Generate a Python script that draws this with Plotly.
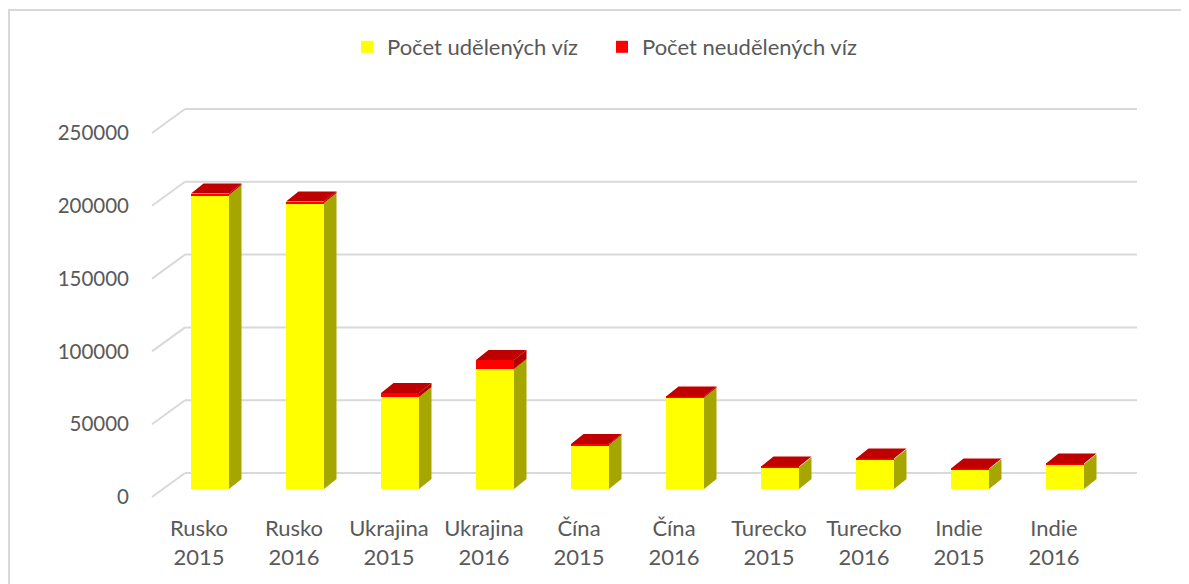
import plotly.graph_objects as go

# ---- data ----
categories = ["Rusko<br>2015", "Rusko<br>2016", "Ukrajina<br>2015", "Ukrajina<br>2016",
              "Čína<br>2015", "Čína<br>2016", "Turecko<br>2015", "Turecko<br>2016",
              "Indie<br>2015", "Indie<br>2016"]
granted = [201900, 196400, 63200, 82400, 30200, 62600, 14900, 20400, 13500, 17000]
refused = [1000, 1000, 2700, 6200, 700, 900, 500, 500, 500, 500]
y_ticks = [0, 50000, 100000, 150000, 200000, 250000]
series_names = ["Počet udělených víz", "Počet neudělených víz"]

# ---- geometry / style ----
W, H = 1189, 584
OFF = 8                      # page body margin (figure is drawn 8px in)
ML, MR, MT, MB = 132, 47, 92, 87   # figure-space margins
PX_PER_CAT = 95.0            # pixels between categories
X0_PIX = 210.0               # page pixel centre of first bar
PX_PER_UNIT = 1.456 / 1000   # pixels per value unit
Y0_PIX = 489.0               # page pixel of bar base
BAR_W = 0.4
DEPTH_DX = 12.5 / PX_PER_CAT
DEPTH_DY = 10 / PX_PER_UNIT

def xv(p):
    return (p - X0_PIX) / PX_PER_CAT

def yv(p):
    return (Y0_PIX - p) / PX_PER_UNIT

# plot area in page pixels = figure margins + OFF
x_range = [xv(ML + OFF), xv(W - MR + OFF)]
y_range = [yv(H - MB + OFF), yv(MT + OFF)]

FRONT_OFF = yv(497)          # front plane offset of value 0
BACK_OFF = yv(473)           # back wall offset of value 0
X_FRONT_L = xv(152)
X_BACK_L = xv(185)
X_BACK_R = xv(1137)

YEL, YEL_SIDE = "#FFFF00", "#A6A600"
RED, RED_TOP, RED_SIDE = "#FF0000", "#C00000", "#B00000"
TXT = "#595959"
GRID = "#D9D9D9"
FONT = "Lato"

xs = list(range(len(categories)))
fig = go.Figure()

fig.add_trace(go.Bar(x=xs, y=granted, width=BAR_W, name=series_names[0],
                     marker=dict(color=YEL, line=dict(width=0))))
fig.add_trace(go.Bar(x=xs, y=refused, width=BAR_W, name=series_names[1],
                     marker=dict(color=RED, line=dict(width=0))))

def side_polys(bottoms, tops):
    px, py = [], []
    for i, (b, t) in enumerate(zip(bottoms, tops)):
        x1 = i + BAR_W / 2
        px += [x1, x1 + DEPTH_DX, x1 + DEPTH_DX, x1, x1, None]
        py += [b, b + DEPTH_DY, t + DEPTH_DY, t, b, None]
    return px, py

totals = [g + r for g, r in zip(granted, refused)]
sx, sy = side_polys([0] * len(granted), granted)
fig.add_trace(go.Scatter(x=sx, y=sy, fill="toself", fillcolor=YEL_SIDE, mode="lines",
                         line=dict(width=0, color=YEL_SIDE), hoverinfo="skip", showlegend=False))
sx, sy = side_polys(granted, totals)
fig.add_trace(go.Scatter(x=sx, y=sy, fill="toself", fillcolor=RED_SIDE, mode="lines",
                         line=dict(width=0, color=RED_SIDE), hoverinfo="skip", showlegend=False))
tx, ty = [], []
for i, t in enumerate(totals):
    x0, x1 = i - BAR_W / 2, i + BAR_W / 2
    tx += [x0, x1, x1 + DEPTH_DX, x0 + DEPTH_DX, x0, None]
    ty += [t, t, t + DEPTH_DY, t + DEPTH_DY, t, None]
fig.add_trace(go.Scatter(x=tx, y=ty, fill="toself", fillcolor=RED_TOP, mode="lines",
                         line=dict(width=0, color=RED_TOP), hoverinfo="skip", showlegend=False))

shapes = []
for v in y_ticks:
    shapes.append(dict(type="line", xref="x", yref="y", layer="below",
                       x0=X_FRONT_L, y0=v + FRONT_OFF, x1=X_BACK_L, y1=v + BACK_OFF,
                       line=dict(color=GRID, width=2)))
    shapes.append(dict(type="line", xref="x", yref="y", layer="below",
                       x0=X_BACK_L, y0=v + BACK_OFF, x1=X_BACK_R, y1=v + BACK_OFF,
                       line=dict(color=GRID, width=2)))
# chart border (page px 8.5 / 9.5 -> figure px 0.5 / 1.5)
PW, PH = W - ML - MR, H - MT - MB
shapes.append(dict(type="rect", xref="paper", yref="paper", layer="below",
                   x0=(1 - ML) / PW, x1=(W + 10 - ML) / PW,
                   y0=-(H + 10 - (H - MB)) / PH,
                   y1=1 + (MT - 2) / PH,
                   line=dict(color=GRID, width=2)))

fig.update_layout(
    width=W, height=H, autosize=False,
    margin=dict(l=ML, r=MR, t=MT, b=MB),
    paper_bgcolor="white", plot_bgcolor="white",
    barmode="stack", bargap=0,
    font=dict(family=FONT, size=22, color=TXT),
    shapes=shapes,
    legend=dict(orientation="h", x=339 / W, xanchor="left", xref="container",
                y=1 - (47 - OFF) / H, yanchor="middle", yref="container",
                font=dict(family=FONT, size=22, color=TXT),
                entrywidth=210, entrywidthmode="pixels",
                tracegroupgap=0, traceorder="normal"),
    xaxis=dict(range=x_range, showgrid=False, zeroline=False, showline=False,
               tickmode="array", tickvals=[i - 0.116 for i in xs], ticktext=categories,
               ticks="", ticklabelstandoff=8, fixedrange=True,
               tickfont=dict(family=FONT, size=22, color=TXT)),
    yaxis=dict(range=y_range, showgrid=False, zeroline=False, showline=False,
               tickmode="array", tickvals=[v + FRONT_OFF for v in y_ticks],
               ticktext=[str(v) for v in y_ticks], ticks="", ticklabelstandoff=10,
               fixedrange=True, tickfont=dict(family=FONT, size=20.5, color=TXT)),
)

fig.write_html("out.html")
